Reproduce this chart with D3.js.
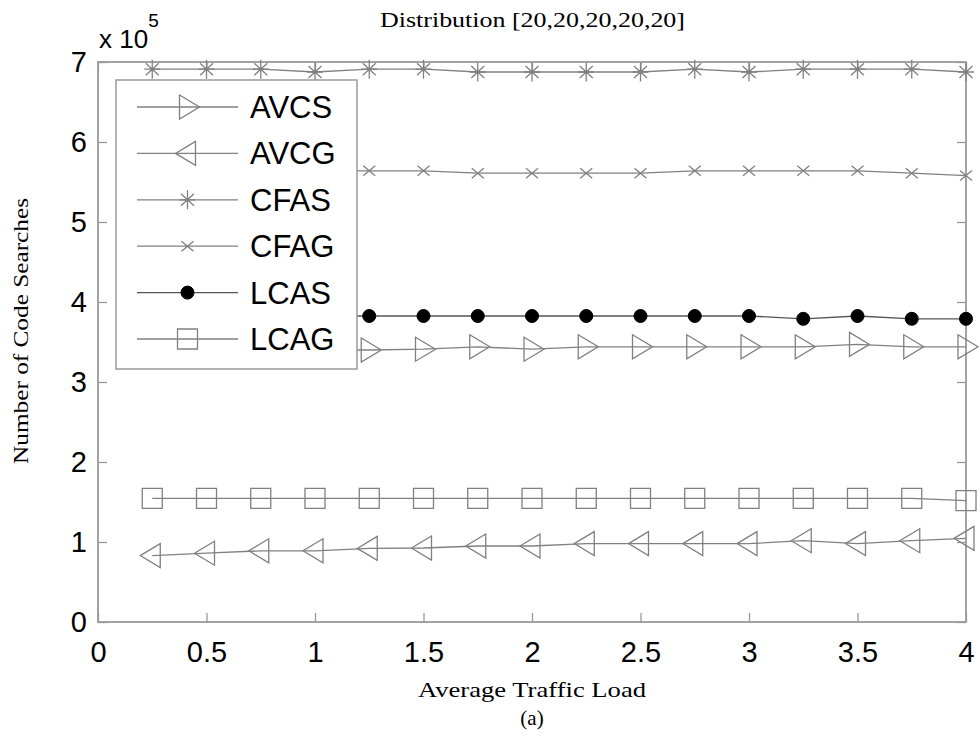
<!DOCTYPE html>
<html>
<head>
<meta charset="utf-8">
<script src="https://cdn.jsdelivr.net/npm/d3@7"></script>
<style>
  html, body { margin: 0; padding: 0; background: #fff; }
  svg { display: block; }
</style>
</head>
<body>
<svg id="chart" width="980" height="743"></svg>
<script>
// Average traffic load (x axis)
const loads = [0.25, 0.5, 0.75, 1.0, 1.25, 1.5, 1.75, 2.0, 2.25, 2.5, 2.75, 3.0, 3.25, 3.5, 3.75, 4.0];

// Number of code searches per scheme
const avcs = [340000, 340000, 340000, 340000, 340000, 341000, 344000, 341000, 344000, 344000, 344000, 344000, 344000, 347000, 344000, 344000];
const avcg = [83000, 86000, 89000, 89000, 92000, 92500, 95000, 95000, 98000, 98000, 98000, 98000, 101600, 98000, 101600, 104600];
const cfas = [691000, 691000, 691000, 687500, 691000, 691000, 687500, 687500, 687500, 687500, 691000, 687500, 691000, 691000, 691000, 687500];
const cfag = [564000, 564000, 564000, 564000, 564000, 564000, 561000, 561000, 561000, 561000, 564000, 564000, 564000, 564000, 561000, 558000];
const lcas = [382500, 382500, 382500, 382500, 382500, 382500, 382500, 382500, 382500, 382500, 382500, 382500, 379000, 382500, 379000, 379000];
const lcag = [154600, 154600, 154600, 154600, 154600, 154600, 154600, 154600, 154600, 154600, 154600, 154600, 154600, 154600, 154600, 151600];

const seriesNames = ["AVCS", "AVCG", "CFAS", "CFAG", "LCAS", "LCAG"];
const markerKinds = ["triRight", "triLeft", "star", "cross", "dot", "square"];

const xTicks = [0, 0.5, 1, 1.5, 2, 2.5, 3, 3.5, 4];
const xTickLabels = ["0", "0.5", "1", "1.5", "2", "2.5", "3", "3.5", "4"];
const yTicks = [0, 100000, 200000, 300000, 400000, 500000, 600000, 700000];
const yTickLabels = ["0", "1", "2", "3", "4", "5", "6", "7"];

const titleText = "Distribution [20,20,20,20,20]";
const xLabelText = "Average Traffic Load";
const yLabelText = "Number of Code Searches";
const captionText = "(a)";

const seriesValues = [avcs, avcg, cfas, cfag, lcas, lcag];

// ---------- layout ----------
const svg = d3.select("#chart");
const plot = { left: 98, right: 966, top: 62, bottom: 622 };
const axisGray = "#9a9a9a";
const lineGray = "#808080";
const sansFont = "'Liberation Sans', Arial, sans-serif";
const serifFont = "'Liberation Serif', 'Times New Roman', serif";

const x = d3.scaleLinear().domain([0, 4]).range([plot.left, plot.right]);
const y = d3.scaleLinear().domain([0, 700000]).range([plot.bottom, plot.top]);

// ---------- marker shapes ----------
function markerPath(kind) {
  switch (kind) {
    case "triRight": return "M-8,-12 L12,0 L-8,12 Z";
    case "triLeft":  return "M8,-12 L-12,0 L8,12 Z";
    case "square":   return "M-10,-10 H10 V10 H-10 Z";
    case "star":     return "M0,-9.5 V9.5 M-8,0 H8 M-6.5,-6 L6.5,6 M-6.5,6 L6.5,-6";
    case "cross":    return "M-6,-5 L6,5 M-6,5 L6,-5";
    default:         return null;
  }
}
function drawMarker(g, kind, cx, cy) {
  if (kind === "dot") {
    g.append("circle").attr("cx", cx).attr("cy", cy).attr("r", 6.5)
      .attr("fill", "#000").attr("stroke", "#000").attr("stroke-width", 1);
  } else {
    g.append("path").attr("d", markerPath(kind))
      .attr("transform", `translate(${cx},${cy})`)
      .attr("fill", "none").attr("stroke", lineGray).attr("stroke-width", 1.3);
  }
}

// ---------- axes box and ticks ----------
const axesG = svg.append("g");

axesG.append("g").attr("transform", `translate(0,${plot.bottom})`)
  .call(d3.axisBottom(x).tickValues(xTicks).tickSizeInner(-9).tickSizeOuter(0).tickPadding(19)
    .tickFormat((d, i) => xTickLabels[i]));
axesG.append("g").attr("transform", `translate(0,${plot.top})`)
  .call(d3.axisTop(x).tickValues(xTicks).tickSizeInner(-9).tickSizeOuter(0).tickFormat(""));
axesG.append("g").attr("transform", `translate(${plot.left},0)`)
  .call(d3.axisLeft(y).tickValues(yTicks).tickSizeInner(-9).tickSizeOuter(0).tickPadding(11)
    .tickFormat((d, i) => yTickLabels[i]));
axesG.append("g").attr("transform", `translate(${plot.right},0)`)
  .call(d3.axisRight(y).tickValues(yTicks).tickSizeInner(-9).tickSizeOuter(0).tickFormat(""));

axesG.selectAll(".domain").remove();
axesG.selectAll(".tick line").attr("stroke", axisGray).attr("stroke-width", 1.3);
axesG.selectAll(".tick text")
  .attr("fill", "#000").style("font-family", sansFont).style("font-size", "29px");

axesG.append("rect")
  .attr("x", plot.left).attr("y", plot.top)
  .attr("width", plot.right - plot.left).attr("height", plot.bottom - plot.top)
  .attr("fill", "none").attr("stroke", axisGray).attr("stroke-width", 1.8);

// exponent note above the y axis
const expo = svg.append("text").attr("x", 99).attr("y", 48)
  .style("font-family", sansFont).style("font-size", "26px").attr("fill", "#000");
expo.append("tspan").text("x 10");
expo.append("tspan").attr("dy", -21).style("font-size", "19px").text("5");

// ---------- series ----------
const line = d3.line().x((d, i) => x(loads[i])).y(d => y(d));
const seriesG = svg.append("g");
seriesValues.forEach((vals, s) => {
  const g = seriesG.append("g");
  g.append("path").datum(vals).attr("d", line)
    .attr("fill", "none")
    .attr("stroke", markerKinds[s] === "dot" ? "#555" : lineGray)
    .attr("stroke-width", 1.3);
  vals.forEach((v, i) => drawMarker(g, markerKinds[s], x(loads[i]), y(v)));
});

// ---------- legend ----------
const legend = svg.append("g");
legend.append("rect").attr("x", 116).attr("y", 80).attr("width", 241).attr("height", 289)
  .attr("fill", "#fff").attr("stroke", axisGray).attr("stroke-width", 1.5);
seriesNames.forEach((name, s) => {
  const ly = 107 + s * 46.4;
  legend.append("line").attr("x1", 137).attr("x2", 238).attr("y1", ly).attr("y2", ly)
    .attr("stroke", markerKinds[s] === "dot" ? "#555" : lineGray).attr("stroke-width", 1.3);
  drawMarker(legend, markerKinds[s], 187.5, ly);
  legend.append("text").attr("x", 250).attr("y", ly + 11)
    .style("font-family", sansFont).style("font-size", "31px").attr("fill", "#000")
    .text(name);
});

// ---------- titles ----------
svg.append("text").attr("x", 380).attr("y", 27)
  .attr("textLength", 305).attr("lengthAdjust", "spacingAndGlyphs")
  .style("font-family", serifFont).style("font-size", "21px").attr("fill", "#000")
  .text(titleText);

svg.append("text").attr("x", 532).attr("y", 697).attr("text-anchor", "middle")
  .attr("textLength", 228).attr("lengthAdjust", "spacingAndGlyphs")
  .style("font-family", serifFont).style("font-size", "21px").attr("fill", "#000")
  .text(xLabelText);

svg.append("text").attr("x", 532).attr("y", 725).attr("text-anchor", "middle")
  .style("font-family", serifFont).style("font-size", "21px").attr("fill", "#000")
  .text(captionText);

svg.append("text")
  .attr("transform", "translate(28,331) rotate(-90)")
  .attr("text-anchor", "middle")
  .attr("textLength", 266).attr("lengthAdjust", "spacingAndGlyphs")
  .style("font-family", serifFont).style("font-size", "21px").attr("fill", "#000")
  .text(yLabelText);
</script>
</body>
</html>
